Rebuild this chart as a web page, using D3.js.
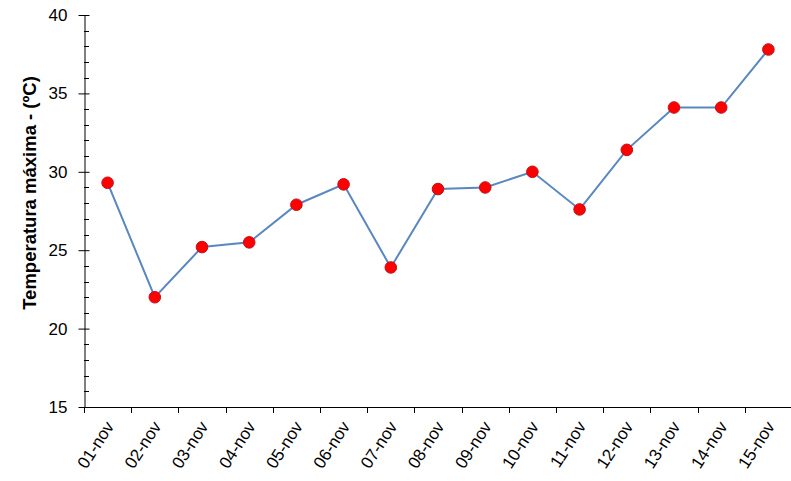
<!DOCTYPE html>
<html><head><meta charset="utf-8">
<script src="https://cdn.jsdelivr.net/npm/d3@7"></script>
<style>body{margin:0;background:#fff}svg{display:block}</style>
</head><body>
<svg id="c" width="791" height="481"></svg>
<script>
const categories = ["01-nov","02-nov","03-nov","04-nov","05-nov","06-nov","07-nov","08-nov","09-nov","10-nov","11-nov","12-nov","13-nov","14-nov","15-nov"];
const values = [29.3,22.0,25.2,25.5,27.9,29.2,23.9,28.9,29.0,30.0,27.6,31.4,34.1,34.1,37.8];
const yTicks = [15,20,25,30,35,40];
const yMinorTicks = d3.range(15,41,1);
const yTitle = "Temperatura máxima - (ºC)";

const svg = d3.select("#c");
const L = 84, R = 792, T = 15, B = 407;
const x = d3.scaleBand().domain(categories).range([L,R]).padding(0);
const y = d3.scaleLinear().domain([15,40]).range([B,T]);
const font = "'Liberation Sans', Arial, sans-serif";

// minor ticks (inside)
svg.append("g").selectAll("line").data(yMinorTicks.filter(v=>!yTicks.includes(v))).join("line")
  .attr("x1",L).attr("x2",L+5).attr("y1",d=>Math.round(y(d))+0.5).attr("y2",d=>Math.round(y(d))+0.5)
  .attr("stroke","#000").attr("stroke-width",1);

// y axis
const gy = svg.append("g").attr("transform",`translate(${L+0.5},0)`)
  .call(d3.axisLeft(y).tickValues(yTicks).tickSize(6).tickPadding(11).tickSizeOuter(0));
gy.selectAll(".tick line").attr("x2",-6).attr("x1",5);
gy.selectAll("text").style("font-family",font).style("font-size","17px").attr("fill","#000");
gy.select(".domain").attr("stroke","#000");

// x axis
const tickPos = d3.range(categories.length+1).map(i=>L + i*x.step());
const gx = svg.append("g");
gx.append("line").attr("x1",L).attr("x2",R).attr("y1",B+0.5).attr("y2",B+0.5).attr("stroke","#000");
gx.selectAll("line.t").data(tickPos).join("line").attr("class","t")
  .attr("x1",d=>Math.round(d)+0.5).attr("x2",d=>Math.round(d)+0.5).attr("y1",B).attr("y2",B+6)
  .attr("stroke","#000");
gx.selectAll("text").data(categories).join("text")
  .attr("transform",d=>`translate(${x(d)+x.bandwidth()/2+2},${B+16}) rotate(-57)`)
  .attr("text-anchor","end").attr("dy","0.35em")
  .style("font-family",font).style("font-size","17px").attr("fill","#000")
  .text(d=>d);

// y title
svg.append("text").attr("transform",`translate(36,193) rotate(-90)`)
  .attr("text-anchor","middle").style("font-family",font).style("font-size","18.5px")
  .style("font-weight","bold").text(yTitle);

// line
const cx = (d,i)=>x(categories[i])+x.bandwidth()/2;
svg.append("path").datum(values)
  .attr("d",d3.line().x((d,i)=>cx(d,i)).y(d=>y(d)))
  .attr("fill","none").attr("stroke","#5A87C0").attr("stroke-width",2);
svg.append("g").selectAll("circle").data(values).join("circle")
  .attr("cx",(d,i)=>cx(d,i)).attr("cy",d=>y(d)).attr("r",5.8)
  .attr("fill","#FF0000").attr("stroke","#C0101A").attr("stroke-width",1);
</script>
</body></html>
